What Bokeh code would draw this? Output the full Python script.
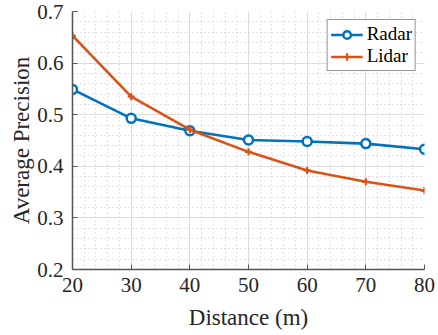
from bokeh.plotting import figure
from bokeh.models import Range1d, FixedTicker, Legend, LegendItem
from bokeh.embed import file_html
from bokeh.resources import INLINE

distance = [20, 30, 40, 50, 60, 70, 80]
radar_ap = [0.549, 0.493, 0.469, 0.451, 0.448, 0.444, 0.433]
lidar_ap = [0.653, 0.535, 0.471, 0.428, 0.392, 0.370, 0.353]
x_ticks = [20, 30, 40, 50, 60, 70, 80]
y_ticks = [0.2, 0.3, 0.4, 0.5, 0.6, 0.7]

BLUE = "#0072BD"
ORANGE = "#D95319"
FONT = "Liberation Serif"
AX = "#262626"

p = figure(width=438, height=335, output_backend="svg", toolbar_location=None,
           x_range=Range1d(20, 80), y_range=Range1d(0.2, 0.7),
           min_border_left=72, min_border_right=14, min_border_top=11, min_border_bottom=66)
p.outline_line_color = None
p.background_fill_color = "white"

for ax, ticks in ((p.xaxis[0], x_ticks), (p.yaxis[0], y_ticks)):
    ax.ticker = FixedTicker(ticks=ticks, minor_ticks=[])
    ax.major_label_text_font = FONT
    ax.major_label_text_font_size = "21px"
    ax.major_label_text_color = AX
    ax.axis_label_text_font = FONT
    ax.axis_label_text_font_size = "23px"
    ax.axis_label_text_font_style = "normal"
    ax.axis_label_text_color = AX
    ax.axis_line_color = "#555555"
    ax.axis_line_width = 1.5
    ax.major_tick_in = 5
    ax.major_tick_out = 0
    ax.major_tick_line_color = "#555555"
    ax.minor_tick_in = 0
    ax.minor_tick_out = 0

p.xaxis.axis_label = "Distance (m)"
p.yaxis.axis_label = "Average Precision"
p.yaxis.major_label_overrides = {t: f"{t:.1f}" for t in y_ticks}
p.xaxis.major_label_standoff = 8
p.yaxis.major_label_standoff = 9
p.xaxis.axis_label_standoff = 10
p.yaxis.axis_label_standoff = 0

p.xgrid.ticker = FixedTicker(ticks=x_ticks, minor_ticks=list(range(20, 81, 2)))
p.ygrid.ticker = FixedTicker(ticks=y_ticks, minor_ticks=[round(0.2 + 0.02 * i, 2) for i in range(26)])
for g in (p.xgrid[0], p.ygrid[0]):
    g.grid_line_color = "#dcdcdc"
    g.grid_line_width = 1
    g.minor_grid_line_color = "#c4c4c4"
    g.minor_grid_line_dash = "1 3"
    g.minor_grid_line_width = 1

rl = p.line(distance, radar_ap, line_color=BLUE, line_width=2.6)
rm = p.scatter(distance, radar_ap, marker="circle", size=9, line_color=BLUE,
               line_width=2.5, fill_color="white")
ll = p.line(distance, lidar_ap, line_color=ORANGE, line_width=2.6)
lm = p.scatter(distance, lidar_ap, marker="cross", size=7, line_color=ORANGE,
               line_width=2.2)

legend = Legend(items=[LegendItem(label="Radar", renderers=[rl, rm]),
                       LegendItem(label="Lidar", renderers=[ll, lm])],
                location="top_right")
legend.label_text_font = FONT
legend.label_text_font_size = "19px"
legend.label_text_color = "black"
legend.border_line_color = "#262626"
legend.border_line_width = 1
legend.background_fill_color = "white"
legend.background_fill_alpha = 1
legend.glyph_width = 32
legend.glyph_height = 19
legend.label_standoff = 4
legend.spacing = 0
legend.padding = 3
legend.margin = 8
legend.label_height = 19
p.add_layout(legend)

open("out.html", "w").write(file_html(p, INLINE))
